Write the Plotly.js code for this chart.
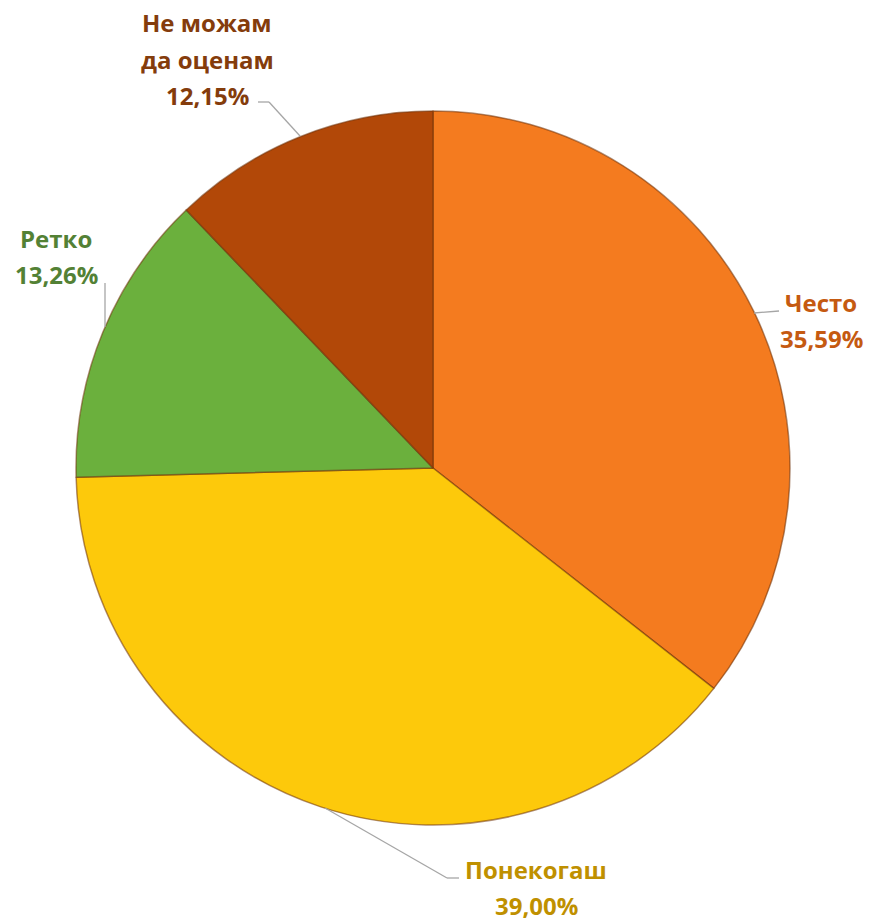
<!DOCTYPE html>
<html>
<head>
<meta charset="utf-8">
<script src="https://cdn.plot.ly/plotly-3.0.1.min.js"></script>
<style>html,body{margin:0;padding:0;background:#fff;}#chart{width:872px;height:921px;}</style>
</head>
<body>
<div id="chart"></div>
<script>
// ---- data ----
const categories = ['Често', 'Понекогаш', 'Ретко', 'Не можам да оценам'];
const values = [35.59, 39.00, 13.26, 12.15];
const valueLabels = ['35,59%', '39,00%', '13,26%', '12,15%'];
const labelLines = [['Често'], ['Понекогаш'], ['Ретко'], ['Не можам', 'да оценам']];

// ---- styles ----
const sliceColors = ['#F47B1F', '#FDC90B', '#6BB03D', '#B24808'];
const textColors = ['#C55A11', '#BF9000', '#538135', '#843C0C'];

const W = 872, H = 921;
const M = {l: 76, r: 82, t: 111, b: 96};
const PW = W - M.l - M.r, PH = H - M.t - M.b;
const px = x => (x - M.l) / PW;
const py = y => (H - M.b - y) / PH;

// label placement (pixels): list of line centres per slice
const labelPos = [
  {x: 821, ys: [302, 338]},
  {x: 536, ys: [869, 905]},
  {x: 56, ys: [238, 274]},
  {x: 207, ys: [22, 59, 95]}
];
// leader lines (pixel polylines)
const leaders = [
  [[779, 311], [754, 313]],
  [[325, 808], [447, 878], [459, 878]],
  [[105, 283], [105, 327]],
  [[258, 102], [269, 102], [300, 136]]
];

const annotations = [];
categories.forEach((c, i) => {
  const lines = labelLines[i].concat([valueLabels[i]]);
  lines.forEach((t, j) => {
    annotations.push({
      text: t, showarrow: false, xref: 'paper', yref: 'paper',
      x: px(labelPos[i].x), y: py(labelPos[i].ys[j]),
      xanchor: 'center', yanchor: 'middle',
      font: {family: 'Open Sans, sans-serif', size: 24, color: textColors[i], weight: 700}
    });
  });
});

const shapes = [];
leaders.forEach(pts => {
  for (let k = 0; k < pts.length - 1; k++) {
    shapes.push({
      type: 'line', xref: 'paper', yref: 'paper',
      x0: px(pts[k][0]), y0: py(pts[k][1]), x1: px(pts[k+1][0]), y1: py(pts[k+1][1]),
      line: {color: '#A6A6A6', width: 1.3}
    });
  }
});

const trace = {
  type: 'pie',
  labels: categories,
  values: values,
  sort: false,
  direction: 'clockwise',
  rotation: 0,
  textinfo: 'none',
  hoverinfo: 'none',
  marker: {colors: sliceColors, line: {color: 'rgba(110,50,10,0.55)', width: 1.5}},
  showlegend: false
};

Plotly.newPlot('chart', [trace], {
  width: W, height: H,
  margin: M,
  paper_bgcolor: '#ffffff',
  plot_bgcolor: '#ffffff',
  showlegend: false,
  annotations: annotations,
  shapes: shapes
}, {displayModeBar: false, staticPlot: true});
</script>
</body>
</html>
